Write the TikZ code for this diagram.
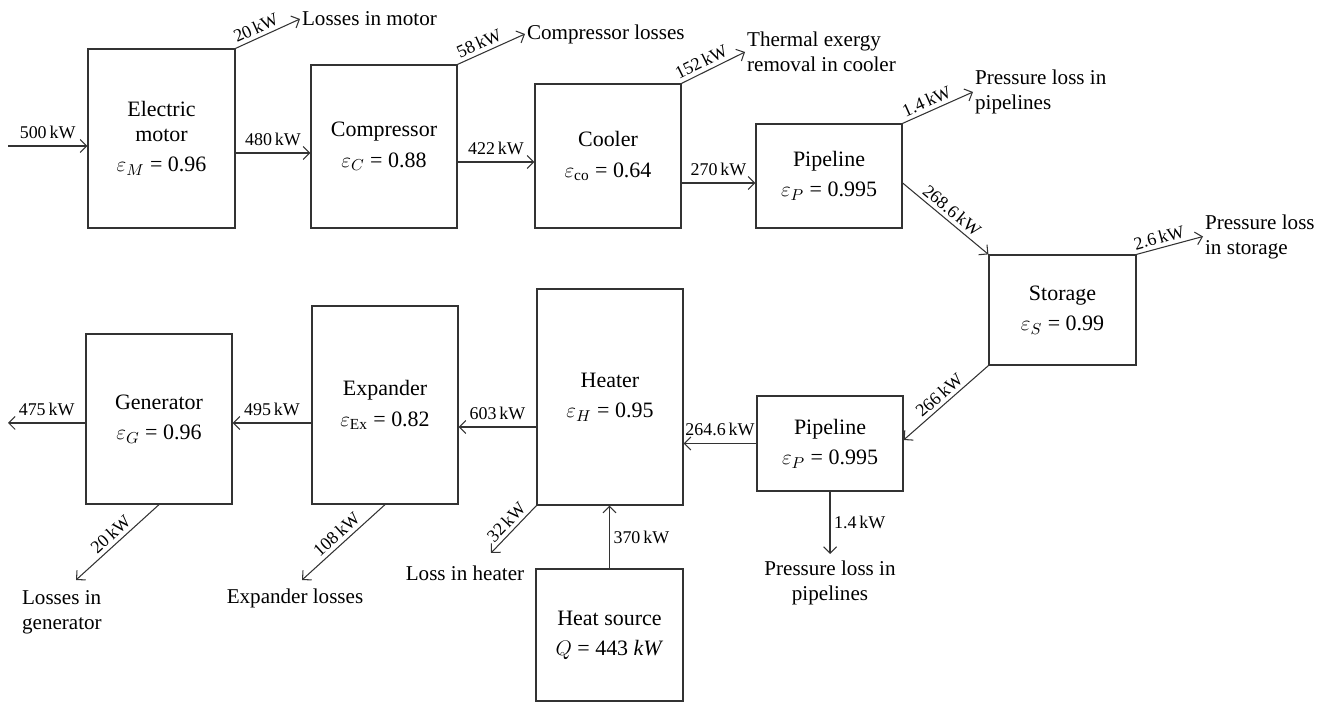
\documentclass[tikz,border=0pt]{standalone}
\usepackage{fontspec}
\setmainfont{Liberation Serif}
\usetikzlibrary{arrows.meta,calc}
\definecolor{inkgray}{HTML}{333333}

\begin{document}
\begin{tikzpicture}[
    >={Straight Barb[length=1.3mm,width=2.6mm]},
    unit/.style={draw=inkgray, line width=0.7pt, align=center, inner sep=0pt,
        minimum width=2.92cm, font=\fontsize{12.5}{14.2}\selectfont},
    flow/.style={->, draw=inkgray, line width=0.6pt},
    amount/.style={font=\fontsize{10.2}{12}\selectfont, inner sep=2pt},
    sink/.style={align=left, inner sep=1pt, font=\fontsize{12}{14.2}\selectfont},
]
    \useasboundingbox (0,0) rectangle (26.54,14.06);

    % =====================================================================
    % CHARGING LINE (motor -> compressor -> cooler -> pipeline)
    % =====================================================================
    \node[unit, minimum width=2.94cm, minimum height=3.58cm] (motor) at (3.23,11.29)
        {Electric\\motor\\[3pt]$\varepsilon_M$ = 0.96};
    \node[unit, minimum height=3.26cm] (comp) at (7.68,11.13)
        {Compressor\\[3pt]$\varepsilon_C$ = 0.88};
    \node[unit, minimum height=2.88cm] (cooler) at (12.16,10.94)
        {Cooler\\[3pt]$\varepsilon_{\mathrm{co}}$ = 0.64};
    \node[unit, minimum height=2.08cm] (pipeA) at (16.58,10.54)
        {Pipeline\\[3pt]$\varepsilon_P$ = 0.995};

    \coordinate (inM) at (0.16,11.14);
    \draw[flow] (inM) -- (inM -| motor.west) node[amount, midway, above=2pt] {500\,kW};
    \draw[flow] (motor.east |- 0,11.00) -- (comp.west |- 0,11.00) node[amount, midway, above=2pt] {480\,kW};
    \draw[flow] (comp.east |- 0,10.82) -- (cooler.west |- 0,10.82) node[amount, midway, above=2pt] {422\,kW};
    \draw[flow] (cooler.east |- 0,10.40) -- (pipeA.west |- 0,10.40) node[amount, midway, above=2pt] {270\,kW};

    \node[sink, anchor=west] (lossM) at (6.00,13.68) {Losses in motor};
    \node[sink, anchor=west] (lossC) at (10.50,13.38) {Compressor losses};
    \node[sink, anchor=west] (lossCo) at (14.90,13.02) {Thermal exergy\\removal in cooler};
    \node[sink, anchor=west] (lossPA) at (19.46,12.22) {Pressure loss in\\pipelines};

    \draw[flow] (motor.north east) -- (lossM.west) node[amount, pos=0.38, sloped, above] {20\,kW};
    \draw[flow] (comp.north east) -- (lossC.west) node[amount, pos=0.38, sloped, above] {58\,kW};
    \draw[flow] (cooler.north east) -- (lossCo.west) node[amount, pos=0.38, sloped, above] {152\,kW};
    \draw[flow] (pipeA.north east) -- (lossPA.west) node[amount, pos=0.4, sloped, above] {1.4\,kW};

    % =====================================================================
    % STORAGE
    % =====================================================================
    \node[unit, minimum width=2.94cm, minimum height=2.20cm] (storage) at (21.25,7.86)
        {Storage\\[3pt]$\varepsilon_S$ = 0.99};
    \node[sink, anchor=west] (lossS) at (24.06,9.33) {Pressure loss\\in storage};

    \draw[flow] (pipeA.east |- 0,10.40) -- (storage.north west) node[amount, midway, sloped, above] {268.6\,kW};
    \draw[flow] (storage.north east) -- (lossS.west) node[amount, pos=0.38, sloped, above] {2.6\,kW};

    % =====================================================================
    % DISCHARGING LINE (pipeline -> heater -> expander -> generator)
    % =====================================================================
    \node[unit, minimum height=1.90cm] (pipeB) at (16.60,5.19)
        {Pipeline\\[3pt]$\varepsilon_P$ = 0.995};
    \node[unit, minimum height=4.32cm] (heater) at (12.20,6.12)
        {Heater\\[3pt]$\varepsilon_H$ = 0.95};
    \node[unit, minimum width=2.94cm, minimum height=2.64cm] (source) at (12.19,1.36)
        {Heat source\\[3pt]$Q$ = 443 \textit{kW}};
    \node[unit, minimum height=3.96cm] (expander) at (7.70,5.96)
        {Expander\\[3pt]$\varepsilon_{\mathrm{Ex}}$ = 0.82};
    \node[unit, minimum height=3.40cm] (gen) at (3.18,5.68)
        {Generator\\[3pt]$\varepsilon_G$ = 0.96};

    \coordinate (outG) at (0.16,5.60);
    \draw[flow] (storage.south west) -- (pipeB.east |- 0,5.26) node[amount, midway, sloped, above] {266\,kW};
    \draw[flow] (pipeB.west) -- (heater.east |- pipeB.west) node[amount, midway, above=2pt] {264.6\,kW};
    \draw[flow] (source.north) -- (source.north |- heater.south) node[amount, midway, right] {370\,kW};
    \draw[flow] (heater.west |- 0,5.52) -- (expander.east |- 0,5.52) node[amount, midway, above=2pt] {603\,kW};
    \draw[flow] (expander.west |- 0,5.60) -- (gen.east |- 0,5.60) node[amount, midway, above=2pt] {495\,kW};
    \draw[flow] (gen.west |- outG) -- (outG) node[amount, midway, above=2pt] {475\,kW};

    % losses below the line
    \node[sink, anchor=north, align=center] (lossPB) at (16.60,2.88) {Pressure loss in\\pipelines};
    \node[sink] (lossH) at (9.30,2.60) {Loss in heater};
    \node[sink] (lossE) at (5.90,2.10) {Expander losses};
    \node[sink, anchor=west] (lossG) at (0.40,1.82) {Losses in\\generator};
    \coordinate (hEnd) at (9.82,3.00);
    \coordinate (eEnd) at (6.04,2.46);
    \coordinate (gEnd) at (1.52,2.46);

    \draw[flow] (pipeB.south) -- ($(lossPB.north)+(0,0.1)$) node[amount, midway, right] {1.4\,kW};
    \draw[flow] (heater.south west) -- (hEnd) node[amount, midway, sloped, above] {32\,kW};
    \draw[flow] (expander.south) -- (eEnd) node[amount, midway, sloped, above] {108\,kW};
    \draw[flow] (gen.south) -- (gEnd) node[amount, midway, sloped, above] {20\,kW};

\end{tikzpicture}
\end{document}
